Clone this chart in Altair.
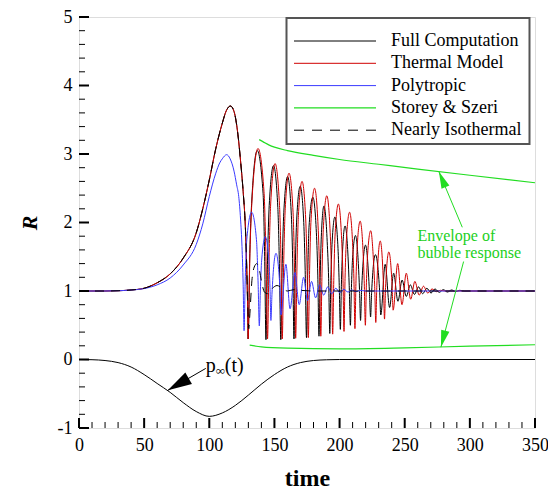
import math
import altair as alt
import pandas as pd

# ---------------- data ----------------
GROWTH = [(0, 1.0), (20, 1.0), (30, 1.004), (40, 1.015), (50, 1.04), (60, 1.12), (70, 1.25),
          (80, 1.48), (90, 1.85), (95, 2.2), (100, 2.62), (105, 3.08), (110, 3.45), (113, 3.63),
          (116.3, 3.70), (119, 3.62), (122, 3.28), (124, 2.90), (126, 2.45), (127.7, 1.93),
          (128.8, 1.30), (129.4, 0.80), (129.8, 0.30)]

FULL_OSC = [(131.1, 1.55), (132.5, 2.28), (136.8, 3.05), (141.3, 2.42), (142.5, 1.50), (143.5, 0.29),
            (144.7, 1.45), (146.0, 2.25), (149.3, 2.83), (152.6, 2.22), (153.8, 1.40), (154.9, 0.29),
            (156.0, 1.40), (157.2, 2.15), (160.1, 2.67), (163.0, 2.10), (164.1, 1.35), (165.0, 0.30),
            (166.0, 1.33), (167.1, 2.05), (169.8, 2.53), (172.5, 2.00), (173.6, 1.30), (174.6, 0.32),
            (175.6, 1.28), (176.6, 1.95), (179.5, 2.37), (182.2, 1.85), (183.3, 1.22), (184.2, 0.34),
            (185.1, 1.20), (186.0, 1.80), (188.0, 2.24), (190.5, 1.72), (191.6, 1.18), (192.5, 0.38),
            (193.3, 1.15), (194.2, 1.68), (196.4, 2.08), (198.8, 1.62), (199.7, 1.12), (200.6, 0.44),
            (201.4, 1.10), (202.2, 1.55), (204.2, 1.95), (206.5, 1.50), (207.4, 1.08), (208.3, 0.50),
            (209.1, 1.05), (209.9, 1.45), (212.2, 1.81), (214.4, 1.40), (215.3, 1.02), (216.1, 0.57),
            (216.9, 1.00), (219.9, 1.67), (222.9, 1.00), (223.8, 0.62),
            (224.6, 0.98), (227.5, 1.53), (230.8, 0.98), (231.6, 0.65),
            (235.0, 1.39), (238.4, 0.76), (241.5, 1.26), (244.8, 0.85), (248.0, 1.16), (251.2, 0.92),
            (254.3, 1.09), (257.5, 0.95), (260.6, 1.06), (263.8, 0.96), (267.0, 1.04), (270.2, 0.97),
            (273.3, 1.03), (276.5, 0.98), (279.6, 1.02), (282.8, 0.985), (286.0, 1.015), (289.1, 0.99),
            (292.2, 1.01), (296, 1.0), (350, 1.0)]

THERMAL_OSC = [(131.2, 1.55), (132.7, 2.30), (137.4, 3.08), (142.0, 2.45), (143.5, 1.50), (144.7, 0.30),
               (145.9, 1.50), (147.2, 2.30), (150.5, 2.86), (153.9, 2.25), (155.1, 1.40), (156.0, 0.30),
               (157.1, 1.40), (158.3, 2.20), (161.2, 2.72), (164.3, 2.15), (165.4, 1.35), (166.3, 0.31),
               (167.3, 1.35), (168.4, 2.10), (171.2, 2.60), (174.0, 2.05), (175.1, 1.30), (176.0, 0.32),
               (177.0, 1.30), (178.0, 2.00), (180.8, 2.50), (183.5, 1.95), (184.7, 1.25), (185.6, 0.34),
               (186.5, 1.25), (187.5, 1.90), (190.2, 2.39), (192.8, 1.85), (193.9, 1.20), (194.7, 0.37),
               (195.6, 1.20), (196.5, 1.80), (199.1, 2.27), (201.6, 1.75), (202.6, 1.20), (203.4, 0.41),
               (204.2, 1.18), (205.1, 1.70), (207.7, 2.15), (210.1, 1.65), (211.0, 1.18), (211.8, 0.45),
               (212.6, 1.15), (213.4, 1.60), (215.8, 2.02), (218.1, 1.55), (218.9, 1.15), (219.8, 0.50),
               (220.6, 1.12), (221.4, 1.50), (223.9, 1.88), (226.0, 1.45), (226.9, 1.10), (227.8, 0.54),
               (228.6, 1.08), (231.2, 1.73), (233.7, 1.08), (234.5, 0.59),
               (235.3, 1.05), (237.8, 1.57), (240.3, 1.08), (241.1, 0.72),
               (244.6, 1.40), (247.9, 0.80), (251.2, 1.26), (254.6, 0.88), (257.8, 1.14), (261.1, 0.94),
               (264.4, 1.07), (267.7, 0.97), (271.0, 1.03), (274.3, 0.99), (277.5, 1.01), (281, 1.0),
               (350, 1.0)]

POLYTROPIC = [(0, 1.0), (20, 1.0), (30, 1.004), (40, 1.014), (50, 1.035), (60, 1.09), (70, 1.19),
              (80, 1.38), (90, 1.68), (95, 1.98), (100, 2.38), (105, 2.72), (108, 2.87), (110, 2.93),
              (113.3, 2.99), (116, 2.93), (119, 2.75), (121, 2.55), (122.6, 2.38), (124, 2.05),
              (125.1, 1.65), (126, 1.1), (126.7, 0.42),
              (127.5, 1.10), (128.8, 1.75), (132.5, 2.15), (136.2, 1.75), (137.5, 1.10), (138.4, 0.49),
              (139.2, 1.00), (140.2, 1.45), (143.0, 1.79), (145.8, 1.45), (146.6, 1.05), (147.3, 0.57),
              (148.1, 0.95), (151.2, 1.55), (154.2, 1.05), (155.0, 0.65), (158.8, 1.39), (162.0, 0.74),
              (165.7, 1.27), (169.0, 0.80), (172.4, 1.20), (175.4, 0.86), (178.5, 1.14), (181.6, 0.90),
              (184.7, 1.09), (187.8, 0.94), (190.9, 1.06), (194.0, 0.96), (197.1, 1.04), (200.2, 0.975),
              (203.3, 1.025), (206.4, 0.985), (209.5, 1.015), (212.6, 0.99), (215.7, 1.01), (220, 1.0),
              (350, 1.0)]

ISO_TAIL = [(128.8, 1.30), (129.6, 0.75), (130.3, 0.45), (131.0, 0.62), (132.7, 1.15), (134.5, 1.35),
            (136.5, 1.40), (138.5, 1.30), (140.5, 1.10), (142.5, 0.98), (145, 0.96), (148.5, 1.04),
            (152, 1.08), (156, 1.04), (160, 1.0), (165, 1.02), (170, 1.01), (180, 1.0), (350, 1.0)]

ENV_UPPER = [(138.3, 3.21), (142, 3.17), (146, 3.13), (150, 3.10), (160, 3.05), (180, 2.98),
             (200, 2.92), (230, 2.85), (260, 2.78), (300, 2.69), (350, 2.58)]
ENV_LOWER = [(131, 0.21), (140, 0.185), (160, 0.165), (200, 0.155), (250, 0.17), (300, 0.195),
             (350, 0.215)]

P_INF = [(0, 0.0), (10, -0.003), (20, -0.015), (30, -0.045), (40, -0.11), (50, -0.22), (60, -0.35),
         (70, -0.48), (80, -0.63), (90, -0.76), (100, -0.83), (110, -0.78), (120, -0.67),
         (130, -0.52), (140, -0.36), (150, -0.22), (160, -0.11), (170, -0.045), (180, -0.015),
         (190, -0.004), (200, 0.0), (350, 0.0)]

# annotations: (tail_t, tail_R, tip_t, tip_R)
ENV_ARROWS = [(294.2, 1.93, 276.2, 2.744), (295.2, 1.43, 277.8, 0.18)]
PINF_ARROW = [(97.3, -0.13, 68.2, -0.45)]
ENV_TEXT = [(259.8, 1.80, "Envelope of"), (259.8, 1.56, "bubble response")]
PINF_TEXT_AT = (97.3, -0.09)

X_MAJOR = [0, 50, 100, 150, 200, 250, 300, 350]
X_MINOR = [v for v in range(10, 350, 10) if v % 50 != 0]
Y_MAJOR = [-1, 0, 1, 2, 3, 4, 5]
Y_MINOR = [round(-1 + 0.2 * i, 1) for i in range(1, 30) if i % 5 != 0]

LEGEND = [("Full Computation", "black", None), ("Thermal Model", "#d00000", None),
          ("Polytropic", "#3a3aff", None), ("Storey & Szeri", "#22dd22", None),
          ("Nearly Isothermal", "black", [10, 8])]

# ---------------- styling ----------------
W, H = 456, 411
FONT = "Liberation Serif, Times New Roman, Times, serif"
BLACK, RED, BLUE, GREEN = "black", "#d00000", "#3a3aff", "#22dd22"
TXT_GREEN = "#1ccf1c"
xs = alt.Scale(domain=[0, 350], nice=False, zero=False)
ys = alt.Scale(domain=[-1, 5], nice=False, zero=False)
xaxis = alt.Axis(values=X_MAJOR, ticks=False, tickSize=0, domain=False, grid=False, labelFlush=False,
                 labelPadding=8, labelFontSize=18, labelFont=FONT, labelColor="black",
                 titleFont=FONT, titleFontSize=24, titleFontWeight="bold", titlePadding=31,
                 titleBaseline="alphabetic", titleColor="black")
yaxis = alt.Axis(values=Y_MAJOR, ticks=False, tickSize=0, domain=False, grid=False, labelFlush=False,
                 labelPadding=7, labelFontSize=18, labelFont=FONT, labelColor="black",
                 labelExpr="datum.value < 0 ? '-' + toString(-datum.value) : datum.label",
                 titleFont=FONT, titleFontSize=22, titleFontWeight="bold", titleFontStyle="italic",
                 titlePadding=16, titleColor="black")


def X(field):
    return alt.X(field, type="quantitative", scale=xs, axis=xaxis, title="time")


def Y(field):
    return alt.Y(field, type="quantitative", scale=ys, axis=yaxis, title="R")


def df(points):
    return pd.DataFrame(points, columns=["t", "R"])


def line(points, color, dash=None, width=1.0):
    kw = dict(interpolate="monotone", color=color, strokeWidth=width)
    if dash:
        kw["strokeDash"] = dash
    return alt.Chart(df(points)).mark_line(**kw).encode(x=X("t"), y=Y("R"), order="t:Q")


kx, ky = W / 350.0, H / 6.0


def head_angle(t0, r0, t1, r1):
    dx = (t1 - t0) * kx
    dy = -(r1 - r0) * ky
    return math.degrees(math.atan2(dx, -dy)) % 360


def arrow(a, color, length, half):
    t0, r0, t1, r1 = a
    seg = pd.DataFrame({"t": [t0], "R": [r0], "t2": [t1], "R2": [r1]})
    shaft = alt.Chart(seg).mark_rule(color=color, strokeWidth=1).encode(
        x=X("t"), y=Y("R"), x2="t2:Q", y2="R2:Q")
    head = alt.Chart(pd.DataFrame({"t": [t1], "R": [r1]})).mark_point(
        shape=f"M0,0L{half},2L-{half},2Z", filled=True, opacity=1, color=color,
        size=length ** 2, angle=head_angle(t0, r0, t1, r1), strokeWidth=0
    ).encode(x=X("t"), y=Y("R"))
    return [shaft, head]


layers = []
layers.append(line(P_INF, BLACK))
layers.append(line(ENV_UPPER, GREEN, width=1.2))
layers.append(line(ENV_LOWER, GREEN, width=1.2))
layers.append(line(GROWTH + FULL_OSC, BLACK))
layers.append(line(GROWTH + THERMAL_OSC, RED))
layers.append(line(POLYTROPIC, BLUE))
layers.append(line(GROWTH[:-3] + ISO_TAIL, BLACK, dash=[9, 7]))

for a in ENV_ARROWS:
    layers += arrow(a, GREEN, 17, 0.5)
layers += arrow(PINF_ARROW[0], BLACK, 24, 0.55)

env_df = pd.DataFrame(ENV_TEXT, columns=["t", "R", "txt"])
layers.append(alt.Chart(env_df).mark_text(align="left", baseline="middle", font=FONT, fontSize=16,
                                          color=TXT_GREEN).encode(x=X("t"), y=Y("R"), text="txt:N"))
pdf = pd.DataFrame({"t": [PINF_TEXT_AT[0]], "R": [PINF_TEXT_AT[1]]})
for txt, dx, dy, fs in [("p", 0, 0, 20), ("\u221e", 10, 5, 13), ("(t)", 19, 0, 20)]:
    layers.append(alt.Chart(pdf).mark_text(align="left", baseline="middle", font=FONT, fontSize=fs,
                                           dx=dx, dy=dy, color="black", text=txt)
                  .encode(x=X("t"), y=Y("R")))


def xticks(vals, length, width):
    return alt.Chart(pd.DataFrame({"v": vals})).mark_rule(color="black", strokeWidth=width).encode(
        x=X("v"), y=alt.value(H), y2=alt.value(H - length))


def yticks(vals, length, width):
    return alt.Chart(pd.DataFrame({"v": vals})).mark_rule(color="black", strokeWidth=width).encode(
        y=Y("v"), x=alt.value(0), x2=alt.value(length))


layers += [xticks(X_MAJOR, 10, 2), xticks(X_MINOR, 6, 1), yticks(Y_MAJOR, 10, 2), yticks(Y_MINOR, 6, 1)]

one = pd.DataFrame({"a": [0]})
BX0, BX1, BY0, BY1 = 207.5, 450.5, 1, 127
layers.append(alt.Chart(one).mark_rect(fill="white", stroke="#555555", strokeWidth=2).encode(
    x=alt.value(BX0), x2=alt.value(BX1), y=alt.value(BY0), y2=alt.value(BY1)))
for i, (name, color, dash) in enumerate(LEGEND):
    yy = 24 + i * 22.3
    kw = dict(color=color, strokeWidth=1.2 if color == GREEN else 1)
    if dash:
        kw["strokeDash"] = dash
    layers.append(alt.Chart(one).mark_rule(**kw).encode(
        x=alt.value(215), x2=alt.value(297), y=alt.value(yy)))
    layers.append(alt.Chart(one).mark_text(align="left", baseline="middle", font=FONT, fontSize=18,
                                           color="black", text=name).encode(
        x=alt.value(312), y=alt.value(yy)))

chart = alt.layer(*layers).properties(
    width=W, height=H,
    autosize=alt.AutoSizeParams(type="none"),
    padding={"left": 71, "top": 9, "right": 13, "bottom": 64},
).configure_view(stroke="black", strokeWidth=2).configure(background="white", font=FONT)

chart.save("out.html", embed_options={"renderer": "svg", "actions": False})
